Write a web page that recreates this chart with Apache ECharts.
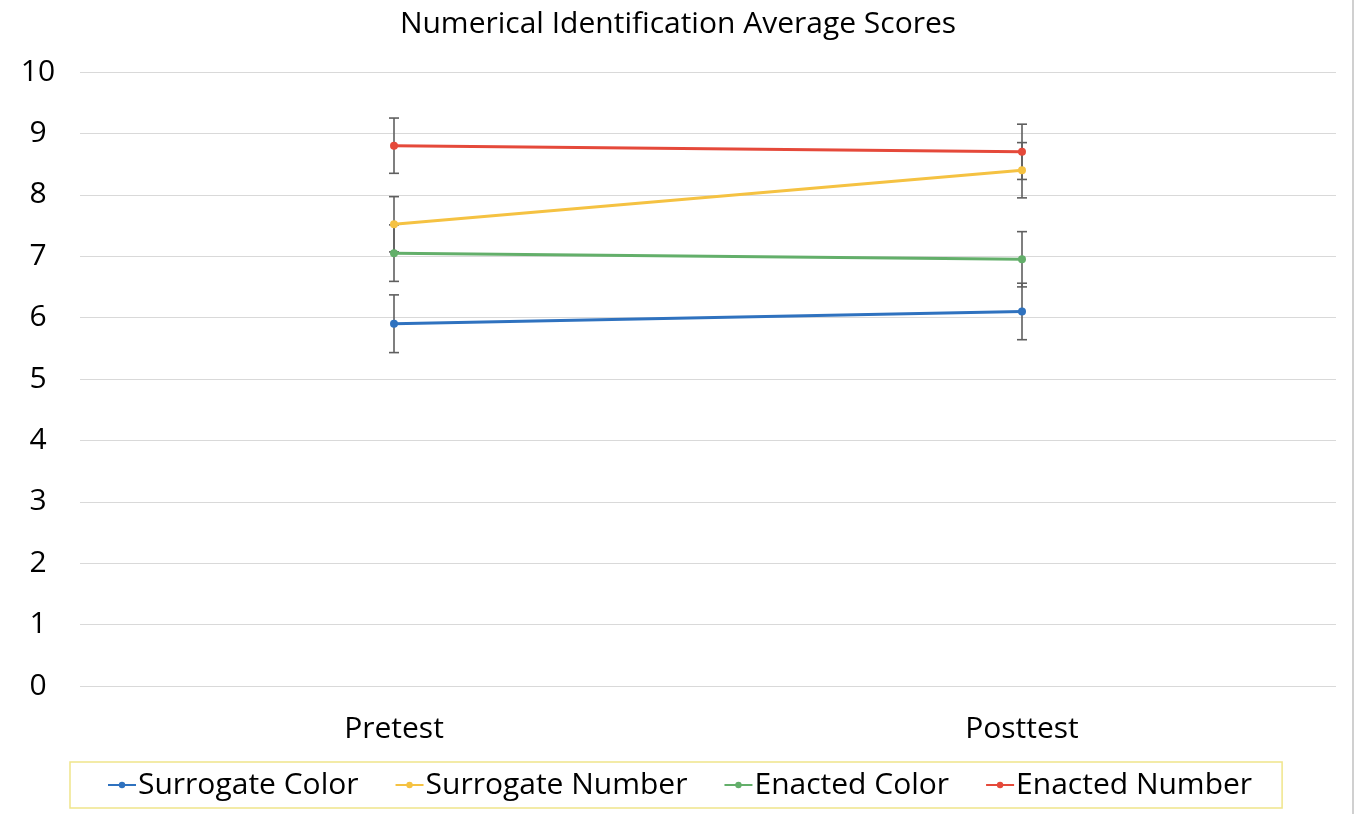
<!DOCTYPE html>
<html><head><meta charset="utf-8">
<script src="https://cdn.jsdelivr.net/npm/echarts@6/dist/echarts.min.js"></script>
<style>html,body{margin:0;padding:0;background:#fff}#c{width:1356px;height:814px}</style>
</head><body><div id="c"></div>
<script>
const categories = ['Pretest', 'Posttest'];
const seriesNames = ['Surrogate Color', 'Surrogate Number', 'Enacted Color', 'Enacted Number'];
const surrogateColor = [5.9, 6.1];
const surrogateNumber = [7.52, 8.4];
const enactedColor = [7.05, 6.95];
const enactedNumber = [8.8, 8.7];
const surrogateColorErr = [0.47, 0.46];
const surrogateNumberErr = [0.45, 0.45];
const enactedColorErr = [0.46, 0.45];
const enactedNumberErr = [0.45, 0.45];
const yTicks = [0, 1, 2, 3, 4, 5, 6, 7, 8, 9, 10];

const colors = ['#2f72bf', '#f5c242', '#63af6a', '#e5493a'];
const values = [surrogateColor, surrogateNumber, enactedColor, enactedNumber];
const errs = [surrogateColorErr, surrogateNumberErr, enactedColorErr, enactedNumberErr];
const font = '"Open Sans", "Noto Sans", sans-serif';

const series = [];
values.forEach((v, i) => {
  series.push({
    name: seriesNames[i], type: 'line', data: v,
    symbol: 'circle', symbolSize: 8,
    lineStyle: { width: 3, color: colors[i] },
    itemStyle: { color: colors[i] },
    z: 3
  });
});
values.forEach((v, i) => {
  series.push({
    type: 'custom', silent: true, z: 2,
    data: v.map((y, k) => [k, y - errs[i][k], y + errs[i][k]]),
    renderItem: (params, api) => {
      const lo = api.coord([api.value(0), api.value(1)]);
      const hi = api.coord([api.value(0), api.value(2)]);
      const w = 5;
      const st = { stroke: '#5f5f5f', lineWidth: 1.6 };
      return { type: 'group', children: [
        { type: 'line', shape: { x1: lo[0], y1: lo[1], x2: hi[0], y2: hi[1] }, style: st },
        { type: 'line', shape: { x1: lo[0] - w, y1: lo[1], x2: lo[0] + w, y2: lo[1] }, style: st },
        { type: 'line', shape: { x1: hi[0] - w, y1: hi[1], x2: hi[0] + w, y2: hi[1] }, style: st }
      ]};
    }
  });
});

const chart = echarts.init(document.getElementById('c'), null, { renderer: 'canvas' });
chart.setOption({
  backgroundColor: '#fff',
  animation: false,
  title: { text: 'Numerical Identification Average Scores', left: 'center', top: 4,
    textStyle: { fontFamily: font, fontSize: 30, fontWeight: 'normal', color: '#000' } },
  grid: { left: 80, right: 20, top: 72, bottom: 128 },
  xAxis: { type: 'category', data: categories,
    axisLine: { show: false }, axisTick: { show: false },
    axisLabel: { fontFamily: font, fontSize: 30, color: '#000', margin: 28 } },
  yAxis: { type: 'value', min: yTicks[0], max: yTicks[yTicks.length - 1], interval: 1,
    axisLine: { show: false }, axisTick: { show: false },
    splitLine: { lineStyle: { color: '#d9d9d9', width: 1 } },
    axisLabel: { fontFamily: font, fontSize: 30, color: '#000', margin: 42, align: 'center' } },
  legend: { data: seriesNames, bottom: 6, left: 70,
    borderColor: '#f0e58a', borderWidth: 1.5, padding: [8, 30, 8, 37],
    itemGap: 36, itemWidth: 28, itemHeight: 8,
    textStyle: { fontFamily: font, fontSize: 30, color: '#000', padding: [0, 0, 0, -3] } },
  graphic: [{ type: 'line', shape: { x1: 1353, y1: 0, x2: 1353, y2: 814 }, style: { stroke: '#d0d0d0', lineWidth: 2 } }],
  series
});
</script></body></html>
